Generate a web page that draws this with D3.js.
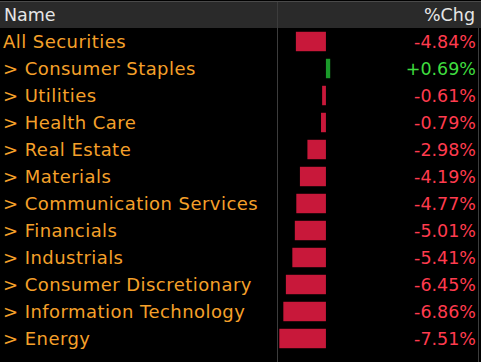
<!DOCTYPE html>
<html><head><meta charset="utf-8">
<script src="https://cdn.jsdelivr.net/npm/d3@7"></script>
<style>html,body{margin:0;padding:0;background:#000;}svg{display:block;}</style>
</head><body>
<svg id="chart" width="481" height="362"></svg>
<script>
const names = ["All Securities","> Consumer Staples","> Utilities","> Health Care","> Real Estate","> Materials","> Communication Services","> Financials","> Industrials","> Consumer Discretionary","> Information Technology","> Energy"];
const values = [-4.84,0.69,-0.61,-0.79,-2.98,-4.19,-4.77,-5.01,-5.41,-6.45,-6.86,-7.51];
const headers = ["Name","%Chg"];

const W = 481, H = 362;
const svg = d3.select("#chart");
svg.append("rect").attr("width",W).attr("height",H).attr("fill","#000");

// header
svg.append("rect").attr("x",0).attr("y",2).attr("width",W).attr("height",26).attr("fill","#2a2a2a");
svg.append("line").attr("x1",0).attr("x2",W).attr("y1",1.5).attr("y2",1.5).attr("stroke","#4a4a4a").attr("stroke-width",1);
svg.append("line").attr("x1",277.5).attr("x2",277.5).attr("y1",2).attr("y2",H).attr("stroke","#3c3c3c");
svg.append("line").attr("x1",478.5).attr("x2",478.5).attr("y1",28).attr("y2",H).attr("stroke","#3c3c3c");

const font = "'DejaVu Sans', sans-serif";
const fs = 17.5;
svg.append("text").attr("x",4).attr("y",21).text(headers[0]).attr("fill","#e6e6e6").attr("font-family",font).attr("font-size",fs);
svg.append("text").attr("x",475).attr("y",21).text(headers[1]).attr("fill","#e6e6e6").attr("font-family",font).attr("font-size",fs).attr("text-anchor","end");

const y = d3.scaleBand().domain(d3.range(names.length)).range([28, 352]).paddingInner(0.28).paddingOuter(0.14);
const x = d3.scaleLinear().domain([-7.51, 0.69]).range([279.3, 330.2]);

const rows = svg.selectAll("g.row").data(values).join("g").attr("class","row");
rows.append("rect")
  .attr("x", d => x(Math.min(0,d)))
  .attr("width", d => Math.abs(x(d)-x(0)))
  .attr("y", (d,i) => y(i))
  .attr("height", y.bandwidth())
  .attr("fill", d => d >= 0 ? "#1a9a2a" : "#c8183a");
rows.append("text")
  .attr("x",3).attr("y",(d,i)=>y(i)+y.bandwidth()/2+6.5)
  .text((d,i)=>names[i])
  .attr("fill","#f5a02a").attr("font-family",font).attr("font-size",18)
  .attr("letter-spacing",0.45);
rows.append("text")
  .attr("x",476).attr("y",(d,i)=>y(i)+y.bandwidth()/2+6.5)
  .attr("text-anchor","end")
  .text(d => (d>=0?"+":"") + d.toFixed(2) + "%")
  .attr("fill", d => d >= 0 ? "#3fdc3f" : "#ff3b4e").attr("font-family",font).attr("font-size",fs);
</script>
</body></html>
